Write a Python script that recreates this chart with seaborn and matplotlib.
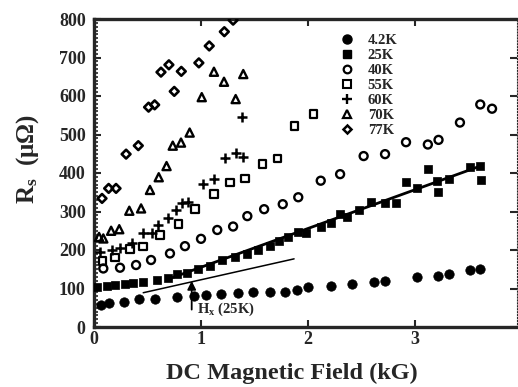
import numpy as np
import pandas as pd
import matplotlib
matplotlib.use("Agg")
import matplotlib.pyplot as plt
from matplotlib.lines import Line2D
from matplotlib.ticker import MultipleLocator
import seaborn as sns

# ---------------- data ----------------
x_42K = [0.065, 0.143, 0.28, 0.425, 0.567, 0.78, 0.93, 1.05, 1.19, 1.35, 1.49, 1.645,
         1.785, 1.895, 2.0, 2.215, 2.414, 2.617, 2.72, 3.016, 3.218, 3.318, 3.514, 3.61]
y_42K = [57, 62, 66, 73, 73, 79, 81, 83, 86, 88, 92, 92,
         92, 96, 105, 107, 112, 117, 120, 129, 132, 137, 148, 150]

x_25K = [0.025, 0.119, 0.196, 0.29, 0.367, 0.46, 0.586, 0.694, 0.773, 0.866, 0.975,
         1.084, 1.193, 1.318, 1.427, 1.536, 1.645, 1.732, 1.816, 1.909, 1.98, 2.119,
         2.215, 2.3, 2.36, 2.48, 2.586, 2.72, 2.82, 2.916, 3.016, 3.118, 3.21, 3.218,
         3.318, 3.514, 3.61, 3.617]
y_25K = [103, 106, 109, 111, 113, 118, 122, 126, 138, 139, 151,
         159, 174, 181, 190, 200, 211, 224, 233, 248, 243, 260,
         269, 293, 285, 304, 324, 323, 323, 376, 362, 410, 379, 351,
         384, 416, 418, 382]

x_40K = [0.087, 0.243, 0.393, 0.533, 0.71, 0.85, 1.0, 1.152, 1.30, 1.433, 1.59, 1.764,
         1.909, 2.119, 2.3, 2.52, 2.72, 2.916, 3.12, 3.22, 3.42, 3.61, 3.72]
y_40K = [152, 154, 161, 174, 191, 210, 229, 252, 261, 288, 306, 319,
         337, 380, 397, 444, 449, 480, 474, 486, 531, 578, 567]

x_55K = [0.078, 0.196, 0.336, 0.46, 0.614, 0.788, 0.944, 1.124, 1.27, 1.414, 1.573,
         1.715, 1.872, 2.05]
y_55K = [171, 181, 202, 209, 239, 268, 306, 345, 375, 386, 423,
         438, 522, 553]

x_60K = [0.06, 0.165, 0.243, 0.352, 0.46, 0.54, 0.6, 0.689, 0.766, 0.82, 0.88, 1.02,
         1.12, 1.224, 1.324, 1.395, 1.383]
y_60K = [195, 200, 204, 219, 245, 245, 265, 282, 304, 321, 325, 371,
         384, 438, 453, 442, 545]

x_70K = [0.047, 0.087, 0.16, 0.236, 0.33, 0.44, 0.523, 0.605, 0.678, 0.736, 0.813,
         0.894, 1.007, 1.121, 1.215, 1.324, 1.395]
y_70K = [234, 230, 250, 254, 302, 308, 356, 389, 418, 471, 479,
         505, 597, 663, 637, 592, 657]

x_77K = [0.075, 0.137, 0.206, 0.30, 0.414, 0.51, 0.567, 0.626, 0.70, 0.75, 0.816,
         0.98, 1.077, 1.218, 1.30]
y_77K = [334, 360, 360, 449, 471, 571, 577, 662, 681, 612, 664,
         686, 730, 767, 797]

# straight lines drawn on the figure
fit25_x = [0.72, 3.61]
fit25_y = [127, 418]
thin_x = [0.46, 1.87]
thin_y = [89, 177]

labels = ["4.2K", "25K", "40K", "55K", "60K", "70K", "77K"]
xticks = [0, 1, 2, 3]
yticks = [0, 100, 200, 300, 400, 500, 600, 700, 800]

# ---------------- style ----------------
sns.set_style("ticks")
plt.rcParams["font.family"] = ["Liberation Serif", "DejaVu Serif"]
plt.rcParams["font.weight"] = "bold"
plt.rcParams["mathtext.fontset"] = "custom"
plt.rcParams["mathtext.rm"] = "Liberation Serif:bold"
plt.rcParams["mathtext.it"] = "Liberation Serif:bold"
plt.rcParams["mathtext.bf"] = "Liberation Serif:bold"

W, H = 518, 387
fig = plt.figure(figsize=(W / 100, H / 100), dpi=100)
ax = fig.add_axes([94 / W, 1 - 327 / H, (517 - 94) / W, 308 / H])

series = [
    (x_42K, y_42K, dict(marker="o", s=46, color="black", edgecolor="black", linewidth=0.5)),
    (x_25K, y_25K, dict(marker="s", s=34, color="black", edgecolor="black", linewidth=0.5)),
    (x_40K, y_40K, dict(marker="o", s=33, facecolor="none", edgecolor="black", linewidth=1.7)),
    (x_55K, y_55K, dict(marker="s", s=30, facecolor="none", edgecolor="black", linewidth=1.6)),
    (x_60K, y_60K, dict(marker="+", s=48, color="black", linewidth=1.8)),
    (x_70K, y_70K, dict(marker="^", s=34, facecolor="none", edgecolor="black", linewidth=1.7)),
    (x_77K, y_77K, dict(marker="D", s=20, facecolor="none", edgecolor="black", linewidth=1.9)),
]
for xs, ys, kw in series:
    df = pd.DataFrame({"x": xs, "y": ys})
    sns.scatterplot(data=df, x="x", y="y", ax=ax, zorder=3, **kw)

sns.lineplot(x=fit25_x, y=fit25_y, ax=ax, color="black", linewidth=2.0, zorder=2)
sns.lineplot(x=thin_x, y=thin_y, ax=ax, color="black", linewidth=1.1, zorder=2)

# H_x arrow and label
ax.annotate("", xy=(0.913, 127), xytext=(0.913, 38),
            arrowprops=dict(arrowstyle="-|>,head_width=0.25,head_length=0.5",
                            lw=1.3, color="black"))
ax.text(0.965, 46, r"H$_{\rm x}$ (25K)", fontsize=10.5, fontweight="bold",
        ha="left", va="center")

# axes
ax.set_xlim(0, (517 - 94) / 107)
ax.set_ylim(0, 800)
ax.set_xticks(xticks)
ax.set_yticks(yticks)
ax.yaxis.set_minor_locator(MultipleLocator(10))
ax.tick_params(axis="both", which="major", direction="in", length=5, width=1.5,
               labelsize=13, top=True, right=True)
ax.tick_params(axis="y", which="minor", direction="in", length=3, width=1.2, left=True, right=False)
ax.tick_params(axis="y", which="major", pad=6)
ax.tick_params(axis="x", which="major", pad=3)
for lab in ax.get_xticklabels() + ax.get_yticklabels():
    lab.set_fontweight("bold")

for side in ["left", "bottom", "top"]:
    ax.spines[side].set_linewidth(2.4)
ax.spines["right"].set_linewidth(0.8)
ax.spines["right"].set_linestyle(":")

ax.set_xlabel("DC Magnetic Field (kG)", fontsize=17.5, fontweight="bold", va="top")
ax.xaxis.set_label_coords(0.468, -0.115)
ax.set_ylabel(r"R$_{\rm s}$  ($\mu\Omega$)", fontsize=18, fontweight="bold")
ax.yaxis.set_label_coords(-0.125, 0.545)

# legend
handles = [
    Line2D([], [], linestyle="none", marker="o", markersize=6.5, color="black"),
    Line2D([], [], linestyle="none", marker="s", markersize=5.8, color="black"),
    Line2D([], [], linestyle="none", marker="o", markersize=5.5, markerfacecolor="none",
           markeredgecolor="black", markeredgewidth=1.6),
    Line2D([], [], linestyle="none", marker="s", markersize=5.3, markerfacecolor="none",
           markeredgecolor="black", markeredgewidth=1.5),
    Line2D([], [], linestyle="none", marker="+", markersize=6.5, color="black",
           markeredgewidth=1.7),
    Line2D([], [], linestyle="none", marker="^", markersize=5.5, markerfacecolor="none",
           markeredgecolor="black", markeredgewidth=1.6),
    Line2D([], [], linestyle="none", marker="D", markersize=4.3, markerfacecolor="none",
           markeredgecolor="black", markeredgewidth=1.8),
]
leg = ax.legend(handles, labels, loc="upper left", bbox_to_anchor=(340 / W, 1 - 34 / H),
                bbox_transform=fig.transFigure, frameon=False,
                handlelength=1.0, handletextpad=0.9, labelspacing=0.12,
                borderpad=0, borderaxespad=0, prop={"weight": "bold", "size": 10.5})

fig.savefig("out.png", dpi=100)
